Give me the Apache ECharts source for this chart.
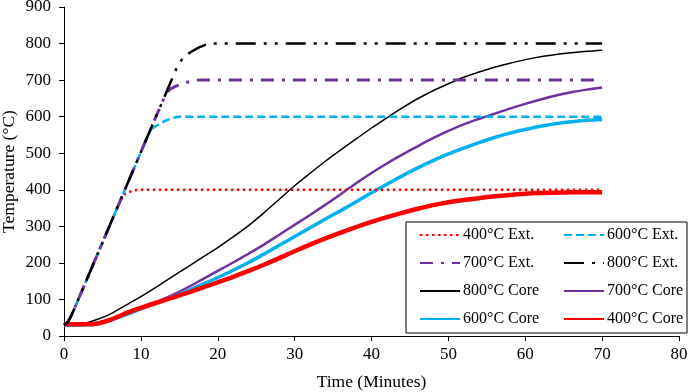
<!DOCTYPE html>
<html lang="en">
<head>
    <meta charset="UTF-8">
    <title>Temperature</title>
    <script src="https://cdn.jsdelivr.net/npm/echarts@6/dist/echarts.min.js"></script>
    <style>
        html, body{
            margin: 0;
            padding: 0;
            background: #fff;
        }
        #main{
            width: 699px;
            height: 392px;
        }
    </style>
</head>
<body>
<div id="main"></div>
<script>
    // exterior (furnace) curves
    var ext400Time = [0, 0.5, 1, 2, 3, 4, 5, 6, 7, 7.5, 8, 9, 10, 70];
    var ext400Temp = [30, 38, 58, 107, 156, 206, 255, 305, 354, 378, 390, 398, 400, 400];
    var ext600Time = [0, 0.5, 1, 2, 4, 6, 8, 10, 11, 11.4, 12, 13, 14, 15, 70];
    var ext600Temp = [30, 38, 58, 107, 206, 305, 404, 503, 552, 566, 575, 587, 596, 600, 600];
    var ext700Time = [0, 0.5, 1, 2, 4, 6, 8, 10, 12, 13, 13.7, 14.5, 15.5, 16.5, 17.5, 70];
    var ext700Temp = [30, 38, 58, 107, 206, 305, 404, 503, 602, 650, 674, 683, 691, 697, 700, 700];
    var ext800Time = [0, 0.5, 1, 2, 4, 6, 8, 10, 12, 13, 14, 14.8, 15.6, 16.5, 17.5, 18.8, 70];
    var ext800Temp = [30, 38, 58, 107, 206, 305, 404, 503, 602, 651, 701, 741, 764, 777, 789, 800, 800];

    // core curves, every 2 minutes from 0 to 70
    var coreTime = [0, 2, 4, 6, 8, 10, 12, 14, 16, 18, 20, 22, 24, 26, 28, 30, 32, 34, 36, 38,
        40, 42, 44, 46, 48, 50, 52, 54, 56, 58, 60, 62, 64, 66, 68, 70];
    var core800 = [30, 32, 43, 60, 84, 108, 134, 161, 188, 215, 242, 271, 302, 337, 374, 411, 445, 478, 509, 539,
        569, 597, 624, 649, 671, 690, 708, 722, 735, 746, 756, 764, 770, 775, 779, 782];
    var core700 = [30, 30, 34, 44, 60, 76, 93, 111, 132, 155, 178, 201, 225, 250, 277, 304, 331, 359, 388, 418,
        446, 472, 496, 519, 541, 561, 579, 594, 608, 622, 635, 647, 658, 667, 674, 680];
    var core600 = [30, 30, 34, 43, 58, 74, 90, 106, 123, 141, 160, 180, 201, 224, 248, 272, 296, 320, 343, 367,
        392, 415, 438, 460, 480, 498, 514, 529, 543, 555, 565, 574, 581, 586, 590, 592];
    var core400 = [32, 32, 33, 44, 62, 77, 91, 104, 118, 132, 147, 162, 178, 195, 213, 232, 250, 267, 283, 298,
        312, 325, 337, 348, 358, 366, 372, 377, 382, 386, 389, 391, 392, 393, 393, 393];

    var xTicks = [0, 80, 10];
    var yTicks = [0, 900, 100];

    var legendLeft = ['400°C Ext.', '700°C Ext.', '800°C Core', '600°C Core'];
    var legendRight = ['600°C Ext.', '800°C Ext.', '700°C Core', '400°C Core'];

    function pairs(xs, ys){
        return xs.map(function(x, i){ return [x, ys[i]]; });
    }

    var font = 'Liberation Serif';
    var chart = echarts.init(document.getElementById('main'));

    function line(name, xs, ys, color, width, dash, smooth){
        return {
            name: name,
            type: 'line',
            data: pairs(xs, ys),
            symbol: 'none',
            smooth: smooth,
            silent: true,
            lineStyle: {color: color, width: width, type: dash, cap: 'butt'},
            itemStyle: {color: color}
        };
    }

    var legendBase = {
        orient: 'vertical',
        padding: 0,
        itemWidth: 40,
        itemHeight: 16,
        itemGap: 12,
        itemStyle: {opacity: 0},
        textStyle: {fontFamily: font, fontSize: 16, color: '#000', lineHeight: 16, padding: [0, 0, 0, -2]},
        z: 10
    };

    chart.setOption({
        animation: false,
        grid: {left: 64, right: 20, top: 7, bottom: 56, outerBoundsMode: 'none', containLabel: false},
        legend: [
            Object.assign({}, legendBase, {data: legendLeft, left: 419, top: 227}),
            Object.assign({}, legendBase, {data: legendRight, left: 563, top: 227})
        ],
        graphic: [{
            type: 'rect',
            shape: {x: 406, y: 222, width: 281, height: 111},
            style: {fill: '#fff', stroke: '#000', lineWidth: 1},
            z: 5
        }],
        xAxis: {
            type: 'value',
            min: xTicks[0], max: xTicks[1], interval: xTicks[2],
            name: 'Time (Minutes)',
            nameLocation: 'middle',
            nameGap: 37,
            nameMoveOverlap: false,
            nameTextStyle: {fontFamily: font, fontSize: 17.5, color: '#000'},
            axisLine: {show: true, lineStyle: {color: '#000', width: 1}},
            axisTick: {show: true, length: 5, lineStyle: {color: '#000'}},
            axisLabel: {fontFamily: font, fontSize: 17, color: '#000', margin: 10},
            splitLine: {show: false}
        },
        yAxis: {
            type: 'value',
            min: yTicks[0], max: yTicks[1], interval: yTicks[2],
            name: 'Temperature (°C)',
            nameLocation: 'middle',
            nameGap: 46,
            nameMoveOverlap: false,
            nameTextStyle: {fontFamily: font, fontSize: 17.5, color: '#000'},
            axisLine: {show: true, lineStyle: {color: '#000', width: 1}},
            axisTick: {show: true, length: 5, lineStyle: {color: '#000'}},
            axisLabel: {fontFamily: font, fontSize: 17, color: '#000', margin: 13},
            splitLine: {show: false}
        },
        series: [
            line('800°C Core', coreTime, core800, '#000000', 1.5, 'solid', 0.3),
            line('700°C Core', coreTime, core700, '#7030A0', 2.5, 'solid', 0.3),
            line('600°C Core', coreTime, core600, '#00B0F0', 3.5, 'solid', 0.3),
            line('400°C Core', coreTime, core400, '#FF0000', 4.5, 'solid', 0.3),
            line('400°C Ext.', ext400Time, ext400Temp, '#FF0000', 2.5, [2.5, 3.5], false),
            line('600°C Ext.', ext600Time, ext600Temp, '#00B0F0', 2.5, [8, 4], false),
            line('700°C Ext.', ext700Time, ext700Temp, '#7030A0', 3, [13, 8, 3, 8], false),
            line('800°C Ext.', ext800Time, ext800Temp, '#000000', 2.5, [20, 8, 3, 8, 3, 8], false)
        ]
    });
</script>
</body>
</html>
